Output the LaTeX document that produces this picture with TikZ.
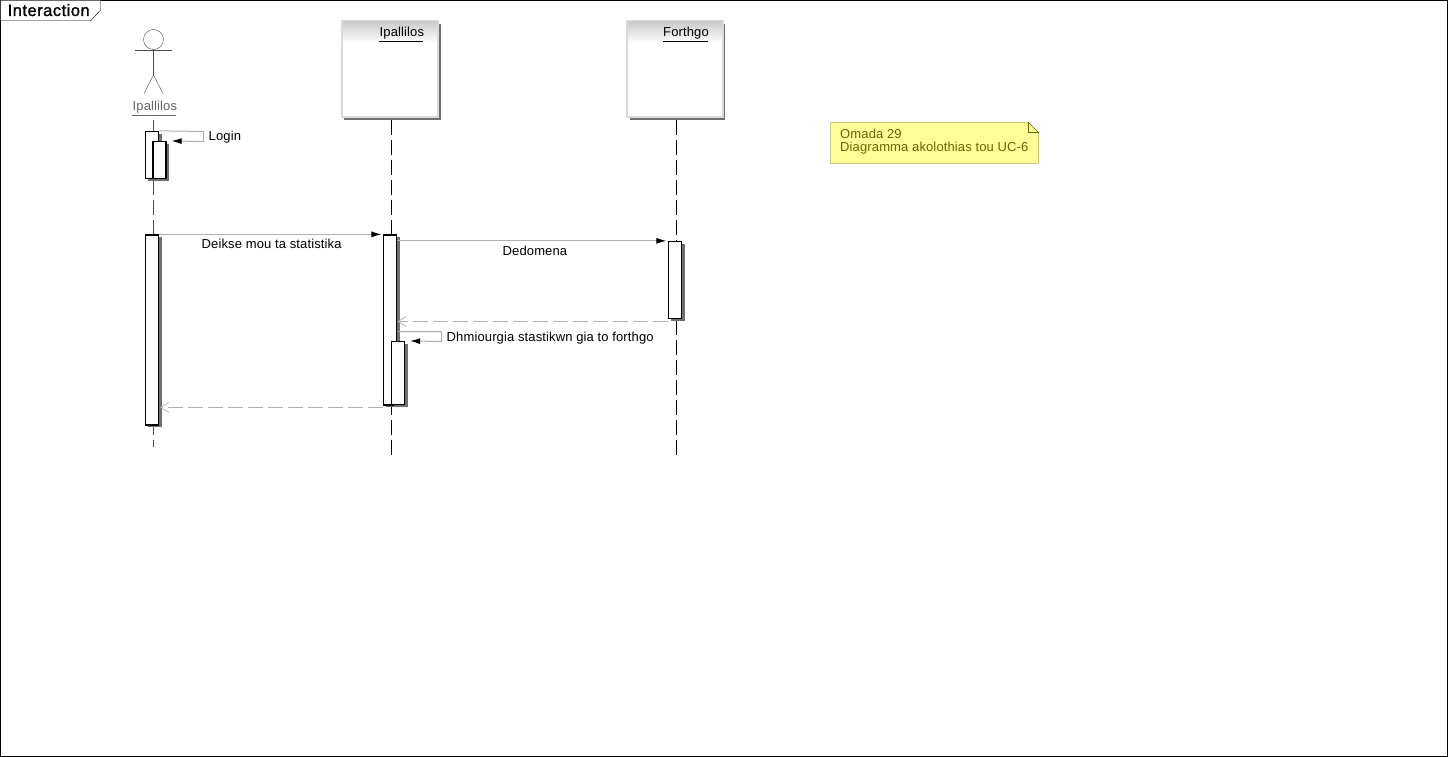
\documentclass[tikz,border=0pt]{standalone}
\usepackage{fontspec}
\setmainfont[LetterSpace=1]{Liberation Sans}
\usetikzlibrary{arrows.meta,calc}
\definecolor{msggray}{HTML}{B0B0B0}
\definecolor{notefill}{HTML}{FFFF99}
\definecolor{noteline}{HTML}{666600}
\definecolor{shadowgray}{HTML}{707070}
\tikzset{
  x=1pt,y=-1pt,line width=1pt,
  txt/.style={inner sep=0pt,anchor=base west,font=\fontsize{13}{13}\selectfont,text=black},
  barbox/.style={draw=black,fill=white,line width=1.3pt,inner sep=0pt,minimum width=13pt},
  barshadow/.style={fill=shadowgray},
  lifeline/.style={draw=black,line width=1pt,dash pattern=on 15pt off 5pt,dash phase=17.5pt},
  msg/.style={draw=msggray,line width=1pt,-{Latex[black,length=10pt,width=6pt]},shorten >=1.5pt},
  selfmsg/.style={draw=msggray,line width=1pt,-{Latex[black,length=10pt,width=6pt]},shorten >=5pt},
  ret/.style={draw=msggray,line width=1pt,dash pattern=on 15pt off 5pt,-{Straight Barb[msggray,length=8pt,width=10pt,line width=.7pt]}},
  objbox/.style={draw=black!15,fill=white,line width=1.5pt,inner sep=0pt,minimum width=96pt,minimum height=96pt}
}
\begin{document}
\begin{tikzpicture}
\useasboundingbox (0,0) rectangle (1448,757);
\fill[white] (0,0) rectangle (1448,757);
\draw[black] (0.5,0.5) rectangle (1447.5,756.5);
% frame tab
\draw[black,fill=white] (0.5,0.5) -- (100.5,0.5) -- (100.5,10) -- (91,20.5) -- (0.5,20.5) -- cycle;
\node[inner sep=0pt,anchor=base west,font=\fontsize{16.5}{16.5}\selectfont,text=black] (frametitle) at (7.5,16) {\addfontfeature{FakeBold=1.2,LetterSpace=3}Interaction};
% actor
\node[circle,draw=black!70,inner sep=0pt,minimum size=20pt,fill=white] (head) at (153.5,39.5) {};
\coordinate (armL) at (135,50.5); \coordinate (armR) at (172,50.5);
\coordinate (hip) at (153.5,75); \coordinate (legL) at (144,93.5); \coordinate (legR) at (163,93.5);
\draw[black!70] (armL) -- (armR);
\draw[black!70] (head.south) -- (hip);
\draw[black!70] (legL) -- (hip) -- (legR);
\node[txt,text=black!60] (actorlabel) at (132.5,111) {Ipallilos};
\coordinate (ulA) at (132,115.5); \coordinate (ulB) at (176,115.5);
\draw[black!60] (ulA) -- (ulB);
% object boxes
\fill[shadowgray] (344,24) rectangle (441,120);
\node[objbox] (objA) at (390,69) {};
\shade[top color=black!20,bottom color=white] (343,22) rectangle (437,43);
\node[txt] (objAlabel) at (379.5,37) {Ipallilos};
\coordinate (ulC) at (379,41.5); \coordinate (ulD) at (423,41.5);
\draw[black] (ulC) -- (ulD);
\fill[shadowgray] (629.5,24) rectangle (725,120);
\node[objbox] (objB) at (675,69) {};
\shade[top color=black!20,bottom color=white] (628,22) rectangle (722,43);
\node[txt] (objBlabel) at (663,37) {Forthgo};
\coordinate (ulE) at (663,41.5); \coordinate (ulF) at (708,41.5);
\draw[black] (ulE) -- (ulF);
% lifelines
\coordinate (lifeAend) at (153.5,447);
\coordinate (lifeAstart) at (153.5,117.5);
\coordinate (lifeBend) at (391.5,456);
\coordinate (lifeCend) at (676.5,456);
\draw[lifeline,draw=black!70] (lifeAstart) -- (lifeAend);
\draw[lifeline] (objA.south -| lifeBend) -- (lifeBend);
\draw[lifeline] (objB.south -| lifeCend) -- (lifeCend);
% activation bars (shadow first)
\fill[barshadow] (148,134) rectangle (162,181);
\fill[barshadow] (155.5,144) rectangle (168.5,181);
\node[barbox,minimum height=47pt] (a1) at (152,155) {};
\node[barbox,minimum height=37pt] (a2) at (159.5,160) {};
\fill[barshadow] (148,237) rectangle (162,427);
\node[barbox,minimum height=190pt] (a3) at (152,330) {};
\fill[barshadow] (386,237) rectangle (400,407);
\node[barbox,minimum height=170pt] (b1) at (390,320) {};
\fill[barshadow] (394,344) rectangle (408,407);
\node[barbox,minimum height=63pt] (b2) at (398,373) {};
\fill[barshadow] (671,244) rectangle (684.5,321);
\node[barbox,minimum height=77pt] (c1) at (675,280) {};
% self message Login
\coordinate (s1a) at (203.5,131.5); \coordinate (s1b) at (203.5,141.5);
\draw[selfmsg] (a1.north east) -- (s1a) -- (s1b) -- (a2.north east);
\node[txt] (login) at (208.5,141) {Login};
% messages
\draw[msg] (a3.north east) -- (b1.north west);
\node[txt] (m1) at (201.5,248) {Deikse mou ta statistika};
\coordinate (m2s) at (b1.east |- c1.north);
\draw[msg] (m2s) -- (c1.north west);
\node[txt] (m2) at (502.5,255) {Dedomena};
\coordinate (r1s) at (668,321.5); \coordinate (r1e) at (397.5,321.5);
\draw[ret] (r1s) -- (r1e);
\coordinate (s2s) at (397.5,331.5); \coordinate (s2a) at (441.5,331.5); \coordinate (s2b) at (441.5,341.5);
\draw[selfmsg] (s2s) -- (s2a) -- (s2b) -- (b2.north east);
\node[txt] (m3) at (446.5,341) {Dhmiourgia stastikwn gia to forthgo};
\coordinate (r2s) at (383,407.5); \coordinate (r2e) at (160,407.5);
\draw[ret] (r2s) -- (r2e);
% note
\draw[noteline,fill=notefill] (830.5,122.5) -- (1028.5,122.5) -- (1038.5,132.5) -- (1038.5,163.5) -- (830.5,163.5) -- cycle;
\draw[noteline] (1028.5,122.5) -- (1028.5,132.5) -- (1038.5,132.5);
\node[txt,text=noteline] (n1) at (840,138.5) {Omada 29};
\node[txt,text=noteline] (n2) at (840,151) {Diagramma akolothias tou UC-6};
\end{tikzpicture}
\end{document}
